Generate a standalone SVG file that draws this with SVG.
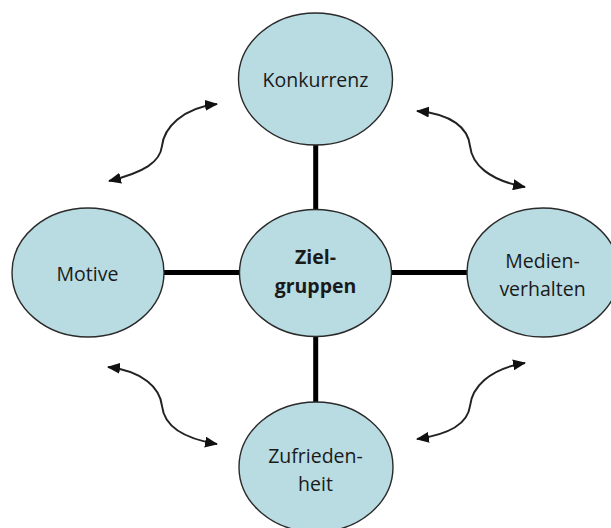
<svg xmlns="http://www.w3.org/2000/svg" width="611" height="528" viewBox="0 0 611 528">
<defs>
<marker id="ah" viewBox="0 0 13 11" refX="12" refY="5.5" markerWidth="13" markerHeight="11" markerUnits="userSpaceOnUse" orient="auto-start-reverse">
<path d="M0,0 L13,5.5 L0,11 Z" fill="#111"/>
</marker>
<style>
.node{fill:#b8dce2;stroke:#2a2a2a;stroke-width:1.4}
.lbl{font-family:"Open Sans","Liberation Sans",sans-serif;font-size:19.5px;fill:#1a1a1a;text-anchor:middle}
.bold{font-weight:bold}
.bar{stroke:#000;stroke-width:5;fill:none}
.arc{stroke:#222;stroke-width:2;fill:none;marker-start:url(#ah);marker-end:url(#ah)}
</style>
</defs>
<rect width="611" height="528" fill="#ffffff"/>
<g id="connectors">
<line class="bar" x1="164" y1="272.5" x2="240" y2="272.5"/>
<line class="bar" x1="391" y1="272.5" x2="468" y2="272.5"/>
<line class="bar" x1="315.7" y1="144" x2="315.7" y2="211"/>
<line class="bar" x1="315.7" y1="336" x2="315.7" y2="403"/>
<path class="arc" d="M109,181 C145,172 160,162 162,146 C164,128 182,108 217,104"/>
<path class="arc" d="M417,111 C452,114 468,128 470,146 C472,164 488,180 525,187"/>
<path class="arc" d="M108,367 C143,371 160,388 162,406 C164,424 180,438 217,444"/>
<path class="arc" d="M417,439 C452,434 468,422 470,406 C472,388 488,369 525,363"/>
</g>
<g id="konkurrenz">
<ellipse class="node" cx="315.5" cy="79" rx="77" ry="66"/>
<text class="lbl" x="315.5" y="87">Konkurrenz</text>
</g>
<g id="motive">
<ellipse class="node" cx="88" cy="272.5" rx="76" ry="64.5"/>
<text class="lbl" x="87.5" y="280.5">Motive</text>
</g>
<g id="zielgruppen">
<ellipse class="node" cx="315.5" cy="273" rx="76" ry="63.5"/>
<text class="lbl bold" x="315.5" y="264">Ziel-</text>
<text class="lbl bold" x="315.5" y="293">gruppen</text>
</g>
<g id="medienverhalten">
<ellipse class="node" cx="543" cy="272.5" rx="76" ry="64.5"/>
<text class="lbl" x="542.5" y="268">Medien-</text>
<text class="lbl" x="542.5" y="296">verhalten</text>
</g>
<g id="zufriedenheit">
<ellipse class="node" cx="316" cy="467" rx="77" ry="65"/>
<text class="lbl" x="315.5" y="462.5">Zufrieden-</text>
<text class="lbl" x="315.5" y="490.5">heit</text>
</g>
</svg>
